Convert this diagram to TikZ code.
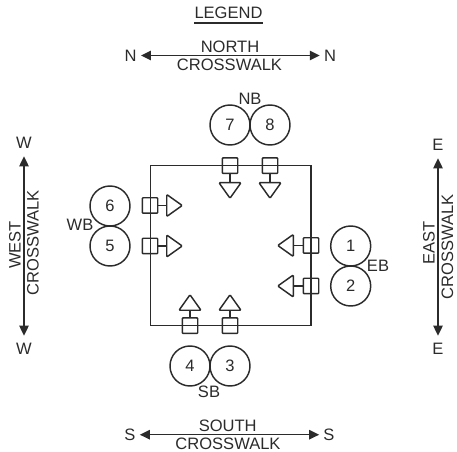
\documentclass[tikz,border=0pt]{standalone}
\usepackage{fontspec}
\setmainfont{Liberation Sans}
\usetikzlibrary{arrows.meta,shapes.geometric}
\definecolor{ink}{HTML}{2B2B2B}
\tikzset{
  every node/.style={text=ink,font=\fontsize{12.4}{14}\selectfont,inner sep=0pt},
  ring/.style={circle,draw=ink,line width=1.1pt,minimum size=30pt},
  sigbox/.style={rectangle,draw=ink,line width=1.1pt,rounded corners=0.6pt,minimum size=11.6pt},
  tip/.style={isosceles triangle,isosceles triangle apex angle=70,isosceles triangle stretches,draw=ink,line width=1.1pt,rounded corners=0.8pt,minimum height=11.6pt,minimum width=16.5pt,shape border rotate=#1},
  stem/.style={draw=ink,line width=1.1pt},
  cross/.style={draw=ink,fill=ink,line width=1.1pt,{Triangle[length=7.5pt,width=7pt]}-{Triangle[length=7.5pt,width=7pt]},shorten <=#1,shorten >=#1},
  cross/.default=3pt
}
\begin{document}
\begin{tikzpicture}[x=0.75pt,y=-0.75pt]
\useasboundingbox (0,0) rectangle (457,452);
% intersection
\node[rectangle,draw=ink,line width=1.1pt,minimum width=120.4pt,minimum height=120pt] (sq) at (230.5,245.7) {};
% legend
\node (legend) at (228.5,13) {LEGEND};
\coordinate (ula) at ([yshift=-3pt]legend.south west);
\coordinate (ulb) at ([yshift=-3pt]legend.south east);
\draw[ink,line width=1.1pt] (ula) -- (ulb);
% north crosswalk
\node (nl) at (130.7,55.5) {N};
\node (nr) at (330,55.5) {N};
\draw[cross] (nl) -- (nr);
\node (nt) at (230,47) {NORTH};
\node (nb) at (229.5,64.5) {CROSSWALK};
% south crosswalk
\node (sl) at (130,434.7) {S};
\node (sr) at (329,434.7) {S};
\draw[cross] (sl) -- (sr);
\node (st) at (227.7,426) {SOUTH};
\node (sb) at (228,444) {CROSSWALK};
% west crosswalk
\node (wt) at (24,143) {W};
\node (wb) at (24,349) {W};
\draw[cross=5.5pt] (wt) -- (wb);
\node[rotate=90] (wa) at (15,245) {WEST};
\node[rotate=90] (wc) at (33,243) {CROSSWALK};
% east crosswalk
\node (et) at (438,145) {E};
\node (eb) at (438,349) {E};
\draw[cross=5.5pt] (et) -- (eb);
\node[rotate=90] (ea) at (429,243) {EAST};
\node[rotate=90] (ec) at (447.5,247) {CROSSWALK};
% circles
\node[ring] (c7) at (230,125) {7};
\node[ring] (c8) at (270,125) {8};
\node[ring] (c6) at (110,206) {6};
\node[ring] (c5) at (110,246) {5};
\node[ring] (c1) at (350.7,246) {1};
\node[ring] (c2) at (350.7,286) {2};
\node[ring] (c4) at (190,366) {4};
\node[ring] (c3) at (230,366) {3};
% approach labels
\node (lnb) at (250,99) {NB};
\node (lwb) at (80,225) {WB};
\node (leb) at (378,266) {EB};
\node (lsb) at (209,391.5) {SB};
% signals north (pointing down)
\node[sigbox] (b7) at (230,165.7) {};
\node[sigbox] (b8) at (270,165.7) {};
\node[tip=-90,anchor=lower side] (t7) at (230,182) {};
\node[tip=-90,anchor=lower side] (t8) at (270,182) {};
% signals west (pointing right)
\node[sigbox] (b6) at (150,205.5) {};
\node[sigbox] (b5) at (150,246) {};
\node[tip=0,anchor=lower side] (t6) at (166,205.5) {};
\node[tip=0,anchor=lower side] (t5) at (166,246) {};
% signals east (pointing left)
\node[sigbox] (b1) at (311,245.5) {};
\node[sigbox] (b2) at (311,286) {};
\node[tip=180,anchor=lower side] (t1) at (294,245.5) {};
\node[tip=180,anchor=lower side] (t2) at (294,286) {};
% signals south (pointing up)
\node[sigbox] (b4) at (190,325.7) {};
\node[sigbox] (b3) at (230,325.7) {};
\node[tip=90,anchor=lower side] (t4) at (190,311) {};
\node[tip=90,anchor=lower side] (t3) at (230,311) {};
% stems
\foreach \a/\b in {b7/t7,b8/t8,b6/t6,b5/t5,b1/t1,b2/t2,b4/t4,b3/t3}
  \draw[stem] (\a) -- (\b.lower side);
\end{tikzpicture}
\end{document}
